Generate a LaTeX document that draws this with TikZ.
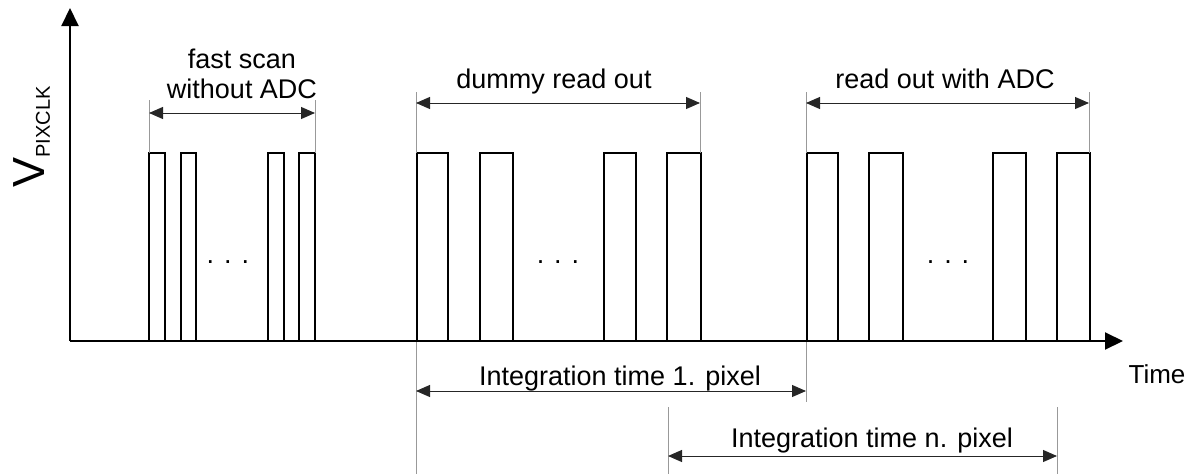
\documentclass[tikz,border=0pt]{standalone}
\usepackage{fontspec}
\setmainfont{Liberation Sans}
\usetikzlibrary{arrows.meta}
\begin{document}
\begin{tikzpicture}[x=1pt,y=-1pt,
  axis/.style={line width=2pt,-{Triangle[length=18pt,width=17pt]}},
  pulse/.style={line width=2pt,line join=miter},
  ext/.style={line width=0.9pt,draw=black!40},
  dim/.style={line width=1pt,draw=black!85,{Triangle[length=14pt,width=12pt]}-{Triangle[length=14pt,width=12pt]}},
  lbl/.style={font=\fontsize{27}{30}\selectfont,inner sep=0pt,anchor=base},
  dots/.style={font=\fontsize{27}{30}\selectfont,inner sep=0pt,anchor=base}]
\useasboundingbox (0,0) rectangle (1192,474);
% axes
\coordinate (O) at (70,341);
\coordinate (ytip) at (70,8);
\coordinate (xtip) at (1123,341);
\draw[axis] (O) -- (ytip);
\draw[axis] (O) -- (xtip);
% pulses
\foreach \a/\b in {149/165,181/196,268/284,299/315,
                   417/448,480/513,604/636,667/701,
                   807/838,869/903,993/1026,1057/1090}{
  \draw[pulse] (\a,341) -- (\a,153) -- (\b,153) -- (\b,341);
}
% dots
\node[dots] (d1) at (228,263) {. . .};
\node[dots] (d2) at (558,263) {. . .};
\node[dots] (d3) at (948,263) {. . .};
% extension lines
\coordinate (f1) at (149,113); \coordinate (f2) at (315,113);
\coordinate (r1) at (416,103); \coordinate (r2) at (700,103);
\coordinate (a1) at (806,103); \coordinate (a2) at (1089,103);
\coordinate (i1) at (416,391); \coordinate (i2) at (806,391);
\coordinate (n1) at (668,456); \coordinate (n2) at (1057,456);
\draw[ext] (149,100) -- (149,153);
\draw[ext] (315,100) -- (315,153);
\draw[ext] (416,92) -- (416,153);
\draw[ext] (416,342) -- (416,474);
\draw[ext] (700,92) -- (700,153);
\draw[ext] (806,92) -- (806,153);
\draw[ext] (806,342) -- (806,402);
\draw[ext] (1089,92) -- (1089,153);
\draw[ext] (668,407) -- (668,474);
\draw[ext] (1057,407) -- (1057,474);
% dimension arrows
\draw[dim] (f1) -- (f2);
\draw[dim] (r1) -- (r2);
\draw[dim] (a1) -- (a2);
\draw[dim] (i1) -- (i2);
\draw[dim] (n1) -- (n2);
% labels
\node[lbl] (t1) at (242,68) {fast scan};
\node[lbl] (t2) at (242,98) {without ADC};
\node[lbl] (t3) at (554,88) {dummy read out};
\node[lbl] (t4) at (945,88) {read out with ADC};
\node[lbl] (t5) at (620,385) {Integration time 1. pixel};
\node[lbl] (t6) at (872,447) {Integration time n. pixel};
\node[lbl,font=\fontsize{26}{30}\selectfont] (t7) at (1157,383) {Time};
\node[inner sep=0pt,anchor=base,rotate=90] (vl) at (45,137) {{\fontsize{45}{45}\selectfont V}\raisebox{-5pt}{\fontsize{20}{20}\selectfont PIXCLK}};
\end{tikzpicture}
\end{document}
